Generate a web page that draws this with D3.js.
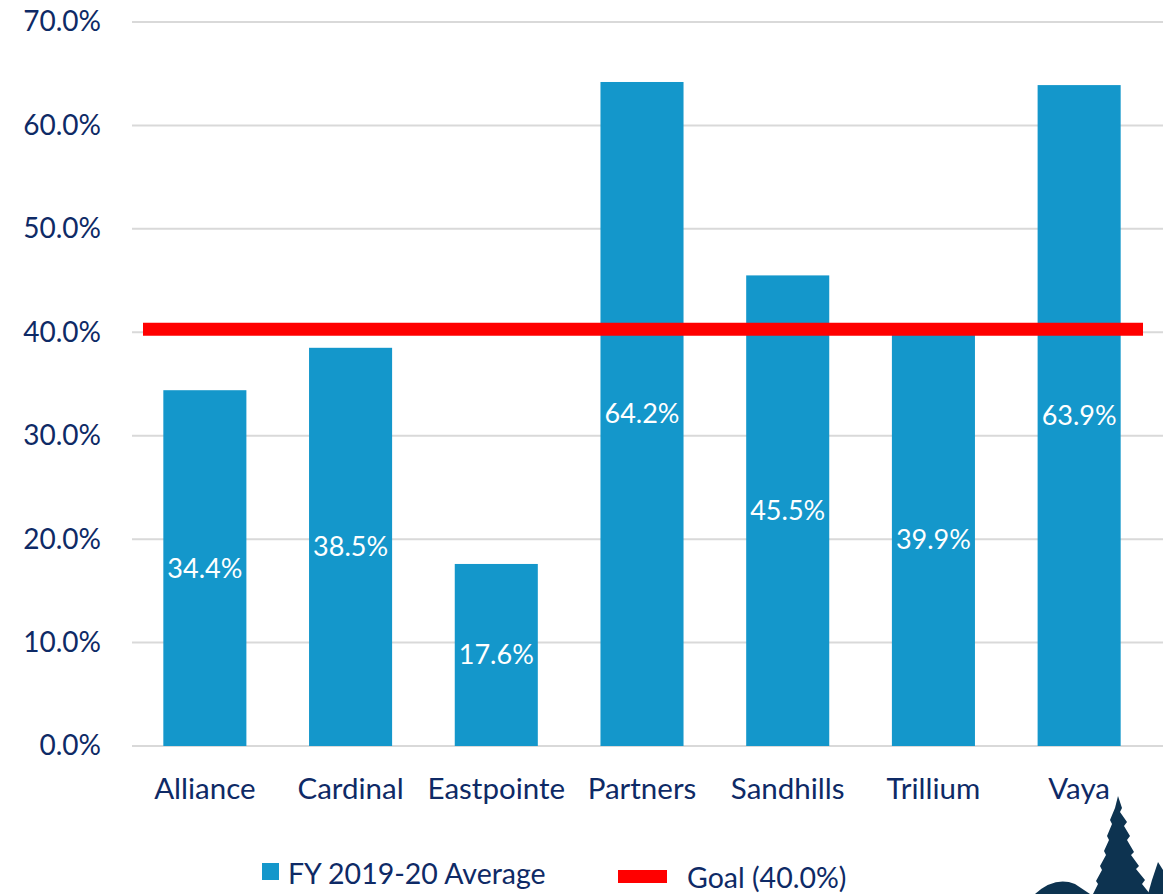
<!DOCTYPE html>
<html>
<head>
<meta charset="utf-8">
<script src="https://cdn.jsdelivr.net/npm/d3@7"></script>
<style>
  body { margin: 0; background: #fff; }
  svg { display: block; font-family: Lato, "Open Sans", sans-serif; }
</style>
</head>
<body>
<svg></svg>
<script>
const width = 1163;
const height = 894;

// chart data
const categories = ['Alliance', 'Cardinal', 'Eastpointe', 'Partners', 'Sandhills', 'Trillium', 'Vaya'];
const averages = [34.4, 38.5, 17.6, 64.2, 45.5, 39.9, 63.9];
const goal = 40.0;
const yTicks = [0, 10, 20, 30, 40, 50, 60, 70];

const textColor = '#0e2a66';
const barColor = '#1497cb';
const goalColor = '#ff0000';

const svg = d3.select('svg')
    .attr('width', width)
    .attr('height', height);

const x = d3.scaleBand()
    .domain(categories)
    .range([132, 1152])
    .paddingInner(0.43)
    .paddingOuter(0.215);

const y = d3.scaleLinear()
    .domain([0, 70])
    .range([746, 22]);

// gridlines
svg.append('g')
    .selectAll('line')
    .data(yTicks)
    .enter()
    .append('line')
    .attr('x1', 132)
    .attr('x2', width)
    .attr('y1', d => y(d))
    .attr('y2', d => y(d))
    .attr('stroke', '#d9d9d9')
    .attr('stroke-width', 2);

// y axis labels
const yAxis = svg.append('g')
    .attr('transform', 'translate(101,0)')
    .call(d3.axisLeft(y).tickValues(yTicks).tickSize(0).tickPadding(0)
        .tickFormat(d => d.toFixed(1) + '%'));
yAxis.select('.domain').remove();
yAxis.selectAll('text')
    .attr('fill', textColor)
    .attr('font-size', 28)
    .attr('font-family', 'Lato, sans-serif');

// bars
const bars = svg.append('g');
bars.selectAll('rect')
    .data(averages)
    .enter()
    .append('rect')
    .attr('x', (d, i) => x(categories[i]))
    .attr('width', x.bandwidth())
    .attr('y', d => y(d))
    .attr('height', d => y(0) - y(d))
    .attr('fill', barColor);

// value labels, centred in the bars
bars.selectAll('text')
    .data(averages)
    .enter()
    .append('text')
    .attr('x', (d, i) => x(categories[i]) + x.bandwidth() / 2)
    .attr('y', d => (y(d) + y(0)) / 2)
    .attr('dy', '0.35em')
    .attr('text-anchor', 'middle')
    .attr('fill', '#fff')
    .attr('font-size', 27)
    .text(d => d.toFixed(1) + '%');

// goal line
svg.append('line')
    .attr('x1', 143)
    .attr('x2', 1143)
    .attr('y1', y(goal) - 3)
    .attr('y2', y(goal) - 3)
    .attr('stroke', goalColor)
    .attr('stroke-width', 13);

// x axis labels
const xAxis = svg.append('g')
    .attr('transform', `translate(0,${y(0)})`)
    .call(d3.axisBottom(x).tickSize(0).tickPadding(32));
xAxis.select('.domain').remove();
xAxis.selectAll('text')
    .attr('fill', textColor)
    .attr('font-size', 29.5)
    .attr('font-family', 'Lato, sans-serif');

// legend
const legend = svg.append('g');
legend.append('rect')
    .attr('x', 262).attr('y', 863)
    .attr('width', 17).attr('height', 17)
    .attr('fill', barColor);
legend.append('text')
    .attr('x', 288).attr('y', 874)
    .attr('dy', '0.35em')
    .attr('fill', textColor)
    .attr('font-size', 28.5)
    .text('FY 2019-20 Average');
legend.append('rect')
    .attr('x', 618).attr('y', 870)
    .attr('width', 49).attr('height', 13)
    .attr('fill', goalColor);
legend.append('text')
    .attr('x', 687).attr('y', 878)
    .attr('dy', '0.35em')
    .attr('fill', textColor)
    .attr('font-size', 28.5)
    .text('Goal (40.0%)');

// tree logo in the corner
const logo = svg.append('g').attr('fill', '#0d3350');
logo.append('path')
    .attr('d', 'M1035,894 Q1055,876 1075,884 L1090,894 Z');
logo.append('path')
    .attr('d', 'M1118,796 L1122,808 L1120,812 L1127,822 L1124,826 L1130,836 L1127,840 ' +
        'L1134,852 L1131,855 L1139,866 L1136,869 L1145,880 L1142,884 L1150,894 ' +
        'L1093,894 L1098,884 L1096,881 L1102,870 L1100,866 L1106,855 L1104,851 ' +
        'L1109,840 L1107,836 L1112,824 L1110,820 L1115,808 Z');
logo.append('path')
    .attr('d', 'M1158,862 L1163,870 L1163,894 L1148,894 L1152,880 Z');
</script>
</body>
</html>
